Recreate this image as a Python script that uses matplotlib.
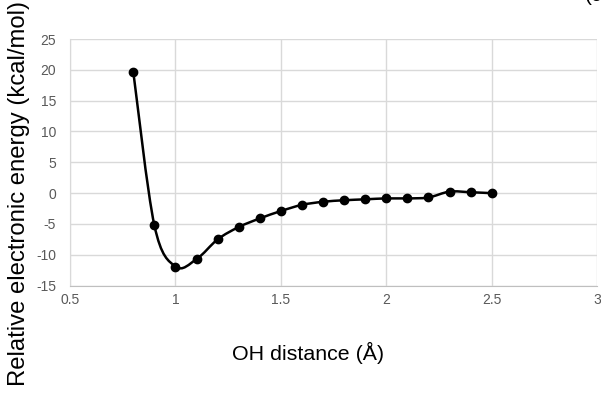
import numpy as np
import matplotlib
matplotlib.use("Agg")
import matplotlib.pyplot as plt
from matplotlib.path import Path
from matplotlib.patches import PathPatch

plt.rcParams["font.family"] = ["Liberation Sans", "DejaVu Sans"]
plt.rcParams["axes.unicode_minus"] = False

# OH scan: distance (angstrom) vs relative energy (kcal/mol)
oh_distance = [0.8, 0.9, 1.0, 1.1, 1.2, 1.3, 1.4, 1.5, 1.6, 1.7,
               1.8, 1.9, 2.0, 2.1, 2.2, 2.3, 2.4, 2.5]
rel_energy = [19.7, -5.2, -11.9, -10.7, -7.5, -5.5, -4.1, -2.9, -1.9, -1.4,
              -1.15, -1.0, -0.85, -0.85, -0.7, 0.25, 0.15, 0.0]

x_ticks = [0.5, 1, 1.5, 2, 2.5, 3]
y_ticks = [-15, -10, -5, 0, 5, 10, 15, 20, 25]


def smooth_path(xs, ys):
    # Catmull-Rom style cubic Bezier through the points
    pts = np.column_stack([xs, ys])
    n = len(pts)
    verts = [pts[0]]
    codes = [Path.MOVETO]
    for i in range(n - 1):
        p0 = pts[i - 1] if i > 0 else pts[i]
        p1 = pts[i]
        p2 = pts[i + 1]
        p3 = pts[i + 2] if i + 2 < n else pts[i + 1]
        c1 = p1 + (p2 - p0) / 6.0
        c2 = p2 - (p3 - p1) / 6.0
        verts += [c1, c2, p2]
        codes += [Path.CURVE4] * 3
    return Path(verts, codes)


fig = plt.figure(figsize=(6.01, 3.94), dpi=100)
ax = fig.add_axes([0.1165, 0.275, 0.877, 0.626])

ax.add_patch(PathPatch(smooth_path(oh_distance, rel_energy), fill=False,
                       edgecolor="black", lw=1.8, zorder=3))
ax.plot(oh_distance, rel_energy, "o", color="black", ms=6, zorder=4)

ax.set_xlim(0.5, 3)
ax.set_ylim(-15, 25)
ax.set_xticks(x_ticks)
ax.set_xticklabels([f"{t:g}" for t in x_ticks])
ax.set_yticks(y_ticks)
ax.grid(True, color="#d9d9d9", lw=1)
ax.set_axisbelow(True)
for side in ["top", "right"]:
    ax.spines[side].set_visible(False)
ax.spines["left"].set_color("#d9d9d9")
ax.spines["bottom"].set_color("#bfbfbf")
ax.tick_params(axis="x", length=0, labelsize=10, colors="#595959", pad=5)
ax.tick_params(axis="y", length=0, labelsize=10, colors="#595959", pad=10)

# axis titles
fig.text(308 / 601, 1 - 353 / 394, "OH distance (Å)", fontsize=15.4,
         ha="center", va="center")
fig.text(19 / 601, 0.508, "Relative electronic energy (kcal/mol)",
         fontsize=17.2, rotation=90, ha="center", va="center")

# panel label, mostly above the top edge
fig.text(585 / 601, 1 - 1 / 394, "(c)", fontsize=15, ha="left", va="baseline")

fig.savefig("out.png", dpi=100)
